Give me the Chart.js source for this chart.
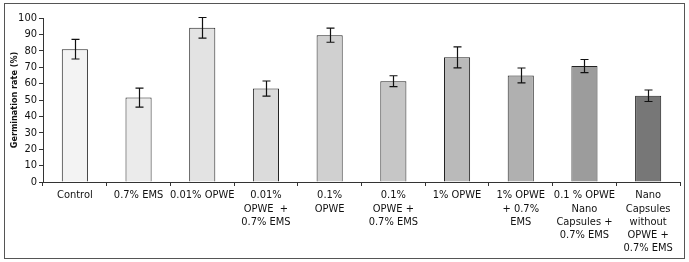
<!DOCTYPE html>
<html>
<head>
<meta charset="utf-8">
<script src="https://cdn.jsdelivr.net/npm/chart.js@4.4.0/dist/chart.umd.min.js"></script>
<style>
  body { margin: 0; background: #fff; }
  #frame {
    position: absolute; left: 4px; top: 3px;
    width: 679px; height: 254px;
    border: 1px solid #555;
  }
  #wrap { position: relative; width: 679px; height: 254px; }
</style>
</head>
<body>
<div id="frame"><div id="wrap"><canvas id="chart"></canvas></div></div>
<script>
// categories and values
const categories = [
    'Control',
    '0.7% EMS',
    '0.01% OPWE',
    ['0.01%', 'OPWE  +', '0.7% EMS'],
    ['0.1%', 'OPWE'],
    ['0.1%', 'OPWE +', '0.7% EMS'],
    '1% OPWE',
    ['1% OPWE', '+ 0.7%', 'EMS'],
    ['0.1 % OPWE', 'Nano', 'Capsules +', '0.7% EMS'],
    ['Nano', 'Capsules', 'without', 'OPWE +', '0.7% EMS']
];
const germination = [81, 51.5, 94, 57, 89.5, 61.5, 76, 65, 70.7, 52.6];
const errors = [6, 5.8, 6.3, 4.6, 4.3, 3.3, 6.4, 4.5, 4, 3.5];
const barColors = ['#f3f3f3', '#ebebeb', '#e3e3e3', '#dbdbdb', '#d0d0d0',
                   '#c6c6c6', '#bababa', '#b0b0b0', '#9c9c9c', '#777777'];
const yTicks = [0, 10, 20, 30, 40, 50, 60, 70, 80, 90, 100];

const fontFam = "'Liberation Sans Narrow', 'DejaVu Sans Condensed', sans-serif";

// whiskers drawn through the chart scales
const errorBars = {
    id: 'errorBars',
    afterDatasetsDraw(chart) {
        const ctx = chart.ctx;
        const y = chart.scales.y;
        const meta = chart.getDatasetMeta(0);
        ctx.save();
        ctx.strokeStyle = '#111';
        ctx.lineWidth = 1.2;
        meta.data.forEach((bar, i) => {
            const top = y.getPixelForValue(germination[i] + errors[i]);
            const bot = y.getPixelForValue(germination[i] - errors[i]);
            const x = Math.round(bar.x) + 0.5;
            ctx.beginPath();
            ctx.moveTo(x, top); ctx.lineTo(x, bot);
            ctx.moveTo(x - 4, top); ctx.lineTo(x + 4, top);
            ctx.moveTo(x - 4, bot); ctx.lineTo(x + 4, bot);
            ctx.stroke();
        });
        ctx.restore();
    }
};

new Chart(document.getElementById('chart'), {
    type: 'bar',
    data: {
        labels: categories,
        datasets: [{
            data: germination,
            backgroundColor: barColors,
            borderColor: '#222',
            borderWidth: 1,
            categoryPercentage: 0.82,
            barPercentage: 0.5
        }]
    },
    options: {
        responsive: true,
        maintainAspectRatio: false,
        animation: false,
        layout: { padding: { top: 14, right: 4, left: 0, bottom: 0 } },
        plugins: {
            legend: { display: false },
            tooltip: { enabled: false }
        },
        scales: {
            x: {
                afterFit: axis => { axis.height = 76; },
                grid: { drawOnChartArea: false, drawTicks: true, tickLength: 4, color: '#333', offset: true },
                border: { color: '#333' },
                ticks: {
                    color: '#111',
                    font: { family: fontFam, size: 11 },
                    maxRotation: 0,
                    autoSkip: false,
                    padding: 3
                }
            },
            y: {
                min: 0,
                max: 100,
                afterFit: axis => { axis.width = 38; },
                afterBuildTicks: axis => { axis.ticks = yTicks.map(v => ({ value: v })); },
                grid: { drawOnChartArea: false, drawTicks: true, tickLength: 4, color: '#333' },
                border: { color: '#333' },
                ticks: {
                    color: '#111',
                    font: { family: fontFam, size: 11 },
                    padding: 2
                },
                title: {
                    display: true,
                    text: 'Germination rate (%)',
                    color: '#111',
                    font: { family: fontFam, size: 9, weight: 'bold' },
                    padding: { top: 4, bottom: 1 }
                }
            }
        }
    },
    plugins: [errorBars]
});
</script>
</body>
</html>
